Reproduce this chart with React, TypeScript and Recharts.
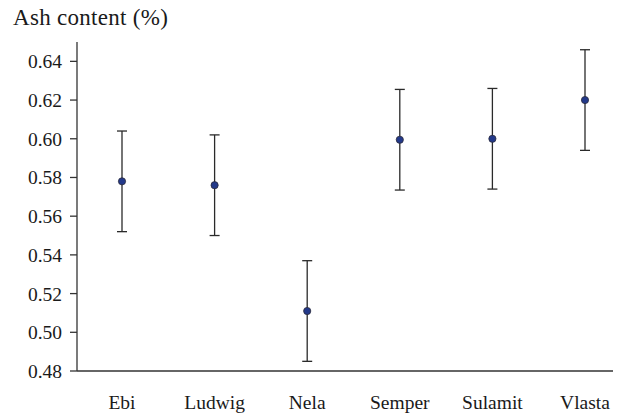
import React from 'react';
import { ComposedChart, Scatter, ErrorBar, XAxis, YAxis } from 'recharts';

const varieties = ['Ebi', 'Ludwig', 'Nela', 'Semper', 'Sulamit', 'Vlasta'];
const ashMeans = [0.578, 0.576, 0.511, 0.5995, 0.6, 0.62];
const ashErrors = [0.026, 0.026, 0.026, 0.026, 0.026, 0.026];
const yTicks = [0.48, 0.5, 0.52, 0.54, 0.56, 0.58, 0.6, 0.62, 0.64];

const data = varieties.map((name, i) => ({ name, ash: ashMeans[i], err: ashErrors[i] }));

const FONT = '"Liberation Serif", serif';

const Dot = (props: any) => {
  const { cx, cy } = props;
  if (cx == null || cy == null) return null;
  return <circle cx={cx} cy={cy} r={3.6} fill="#23398a" stroke="#2b2b3b" strokeWidth={0.8} />;
};

const App: React.FC = () => (
  <div style={{ position: 'relative', width: 613, height: 406, background: '#fff' }}>
    <div
      style={{
        position: 'absolute',
        left: 5,
        top: -2,
        fontFamily: FONT,
        fontSize: 23,
        lineHeight: '23px',
        letterSpacing: 0.3,
        color: '#1a1a1a',
        whiteSpace: 'nowrap',
        zIndex: 1,
      }}
    >
      Ash content (%)
    </div>
    <div style={{ position: 'absolute', left: 0, top: 0, width: 613, height: 406, overflow: 'hidden' }}>
      <ComposedChart width={630} height={406} data={data} margin={{ top: 34, right: 7, left: 0, bottom: 0 }}>
        <XAxis
          dataKey="name"
          type="category"
          height={43}
          padding={{ left: 45, right: 46 }}
          tickLine={false}
          axisLine={{ stroke: '#333', strokeWidth: 1.3 }}
          tick={{ fill: '#1a1a1a', fontSize: 19.5, fontFamily: FONT }}
          tickMargin={18}
          interval={0}
        />
        <YAxis
          type="number"
          domain={[0.48, 0.65]}
          ticks={yTicks}
          width={69}
          tickSize={7}
          tickMargin={8}
          tickFormatter={(v: number) => v.toFixed(2)}
          axisLine={{ stroke: '#333', strokeWidth: 1.3 }}
          tickLine={{ stroke: '#333', strokeWidth: 1.3 }}
          tick={{ fill: '#1a1a1a', fontSize: 19.5, fontFamily: FONT }}
          allowDataOverflow
        />
        <Scatter dataKey="ash" shape={<Dot />} isAnimationActive={false}>
          <ErrorBar dataKey="err" direction="y" width={5} stroke="#2a2a2a" strokeWidth={1.3} />
        </Scatter>
      </ComposedChart>
    </div>
  </div>
);

export default App;
